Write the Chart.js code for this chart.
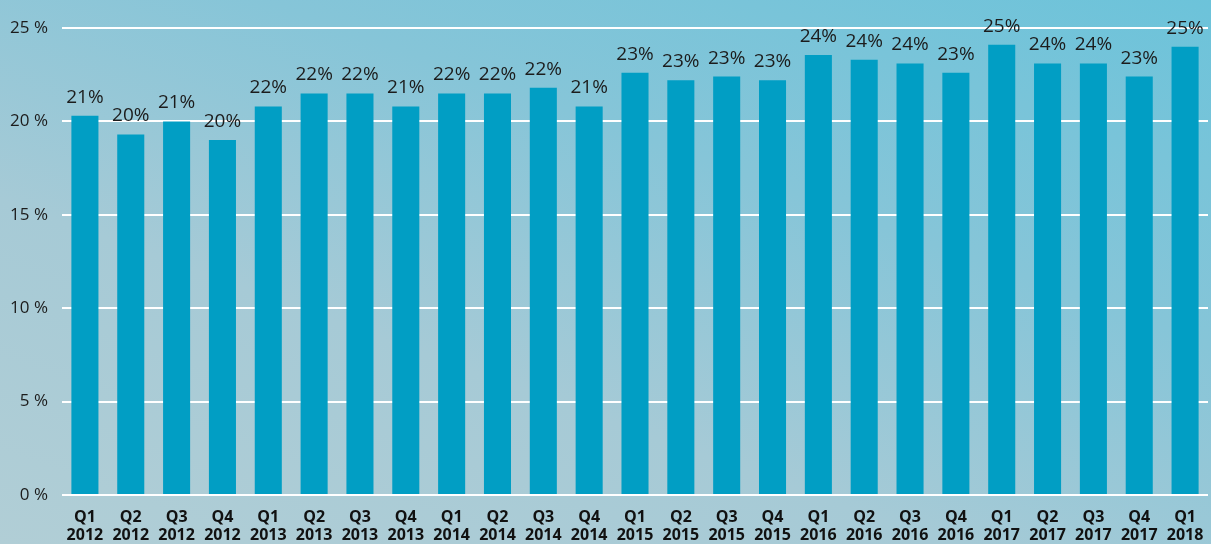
<!DOCTYPE html>
<html>
<head>
<meta charset="utf-8">
<script src="https://cdn.jsdelivr.net/npm/chart.js@4/dist/chart.umd.min.js"></script>
<style>
    html, body { margin: 0; padding: 0; }
    body {
        width: 1211px; height: 544px; overflow: hidden;
        background: linear-gradient(200deg, #6cc3da 0%, #86c5d8 35%, #a6cad6 65%, #b1ced6 100%);
    }
    #wrap { position: relative; width: 1211px; height: 544px; }
</style>
</head>
<body>
<div id="wrap"><canvas id="myChart" width="1211" height="544"></canvas></div>
<script>
    "use strict";

    var quarters = ['Q1', 'Q2', 'Q3', 'Q4', 'Q1', 'Q2', 'Q3', 'Q4', 'Q1', 'Q2', 'Q3', 'Q4',
        'Q1', 'Q2', 'Q3', 'Q4', 'Q1', 'Q2', 'Q3', 'Q4', 'Q1', 'Q2', 'Q3', 'Q4', 'Q1'];
    var years = ['2012', '2012', '2012', '2012', '2013', '2013', '2013', '2013', '2014', '2014', '2014', '2014',
        '2015', '2015', '2015', '2015', '2016', '2016', '2016', '2016', '2017', '2017', '2017', '2017', '2018'];
    var shares = [20.3, 19.3, 20.0, 19.0, 20.8, 21.5, 21.5, 20.8, 21.5, 21.5, 21.8, 20.8,
        22.6, 22.2, 22.4, 22.2, 23.55, 23.3, 23.1, 22.6, 24.1, 23.1, 23.1, 22.4, 24.0];
    var shareLabels = ['21%', '20%', '21%', '20%', '22%', '22%', '22%', '21%', '22%', '22%', '22%', '21%',
        '23%', '23%', '23%', '23%', '24%', '24%', '24%', '23%', '25%', '24%', '24%', '23%', '25%'];
    var yTicks = [0, 5, 10, 15, 20, 25];

    var labels = quarters.map(function (q, i) { return [q, years[i]]; });

    // value labels above each bar
    var barLabels = {
        id: 'barLabels',
        afterDatasetsDraw: function (chart) {
            var ctx = chart.ctx;
            var meta = chart.getDatasetMeta(0);
            ctx.save();
            ctx.font = '19px "Open Sans", sans-serif';
            ctx.fillStyle = '#1c1c1c';
            ctx.textAlign = 'center';
            ctx.textBaseline = 'alphabetic';
            meta.data.forEach(function (bar, i) {
                ctx.fillText(shareLabels[i], bar.x, bar.y - 13);
            });
            ctx.restore();
        }
    };

    var ctx = document.getElementById('myChart').getContext('2d');

    var myChart = new Chart(ctx, {
        type: 'bar',
        data: {
            labels: labels,
            datasets: [{
                label: '',
                data: shares,
                backgroundColor: '#019ec4',
                borderWidth: 0,
                barPercentage: 0.59,
                categoryPercentage: 1
            }]
        },
        options: {
            responsive: false,
            animation: false,
            layout: {
                padding: { top: 28, right: 3, left: 0, bottom: 0 }
            },
            plugins: {
                legend: { display: false },
                tooltip: { enabled: false }
            },
            scales: {
                x: {
                    grid: { display: false, drawTicks: false },
                    border: { display: false },
                    ticks: {
                        color: '#111',
                        padding: 14,
                        maxRotation: 0,
                        autoSkip: false,
                        font: { family: '"Open Sans", sans-serif', size: 16, weight: 'bold', lineHeight: 1.1 }
                    },
                    afterFit: function (axis) {
                        axis.height = 49;
                        axis.paddingLeft = 0;
                        axis.paddingRight = 0;
                    }
                },
                y: {
                    min: 0,
                    max: 25,
                    afterBuildTicks: function (axis) {
                        axis.ticks = yTicks.map(function (v) { return { value: v }; });
                    },
                    grid: { color: '#ffffff', lineWidth: 2, drawTicks: false },
                    border: { display: false },
                    ticks: {
                        color: '#1c1c1c',
                        padding: 14,
                        autoSkip: false,
                        font: { family: '"Open Sans", sans-serif', size: 17 },
                        callback: function (v) { return v + ' %'; }
                    },
                    afterFit: function (axis) { axis.width = 62; }
                }
            }
        },
        plugins: [barLabels]
    });
</script>
</body>
</html>
